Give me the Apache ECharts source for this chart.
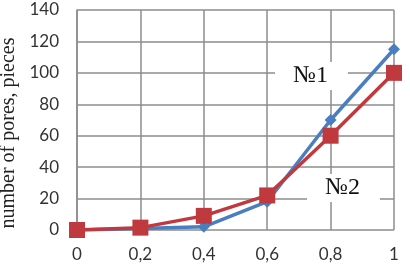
<!DOCTYPE html>
<html><head><meta charset="utf-8">
<script src="https://cdn.jsdelivr.net/npm/echarts@6/dist/echarts.min.js"></script>
<style>html,body{margin:0;padding:0;background:#fff}#c{width:410px;height:267px}</style>
</head><body><div id="c"></div>
<script>
const xValues = [0, 0.2, 0.4, 0.6, 0.8, 1];
const series1 = [0, 1, 2, 18, 70, 115];
const series2 = [0, 1.5, 9, 22, 60, 100];
const yTitle = 'number of pores, pieces';
const label1 = '№1';
const label2 = '№2';

const chart = echarts.init(document.getElementById('c'), null, {renderer: 'canvas'});
chart.setOption({
  animation: false,
  grid: {left: 77, right: 16, top: 10, bottom: 37, containLabel: false, outerBoundsMode: 'none'},
  xAxis: {
    type: 'value', min: 0, max: 1, interval: 0.2,
    axisLine: {show: false}, axisTick: {show: false},
    splitLine: {show: true, lineStyle: {color: '#8c8c8c', width: 1.5}},
    axisLabel: {margin: 16, color: '#333', fontSize: 17, fontFamily: 'Lato',
      formatter: v => String(+v.toFixed(1)).replace('.', ',')}
  },
  yAxis: {
    type: 'value', min: 0, max: 140, interval: 20,
    name: yTitle, nameLocation: 'middle', nameGap: 55,
    nameTextStyle: {fontFamily: 'Liberation Serif', fontSize: 20, color: '#222', padding: [0, 26, 0, 0]},
    axisLine: {show: true, lineStyle: {color: '#8c8c8c', width: 1.5}}, axisTick: {show: false},
    splitLine: {show: true, lineStyle: {color: '#8c8c8c', width: 1.5}},
    axisLabel: {margin: 18, color: '#333', fontSize: 17, fontFamily: 'Lato'}
  },
  graphic: [
    {type: 'text', left: 275, top: 62, z: 1,
      style: {text: label1, font: '24px "Liberation Serif"', fill: '#111',
        backgroundColor: '#fff', padding: [2, 20, 2, 18]}},
    {type: 'text', left: 307, top: 174, z: 1,
      style: {text: label2, font: '24px "Liberation Serif"', fill: '#111',
        backgroundColor: '#fff', padding: [2, 20, 2, 18]}}
  ],
  series: [
    {type: 'line', data: xValues.map((x, i) => [x, series1[i]]), z: 3,
      symbol: 'diamond', symbolSize: 12,
      lineStyle: {color: '#4a7ebf', width: 3.5},
      itemStyle: {color: '#4a7ebf'}},
    {type: 'line', data: xValues.map((x, i) => [x, series2[i]]), z: 4,
      symbol: 'rect', symbolSize: 16,
      lineStyle: {color: '#c0393f', width: 3.5},
      itemStyle: {color: '#c0393f'}}
  ]
});
</script></body></html>
